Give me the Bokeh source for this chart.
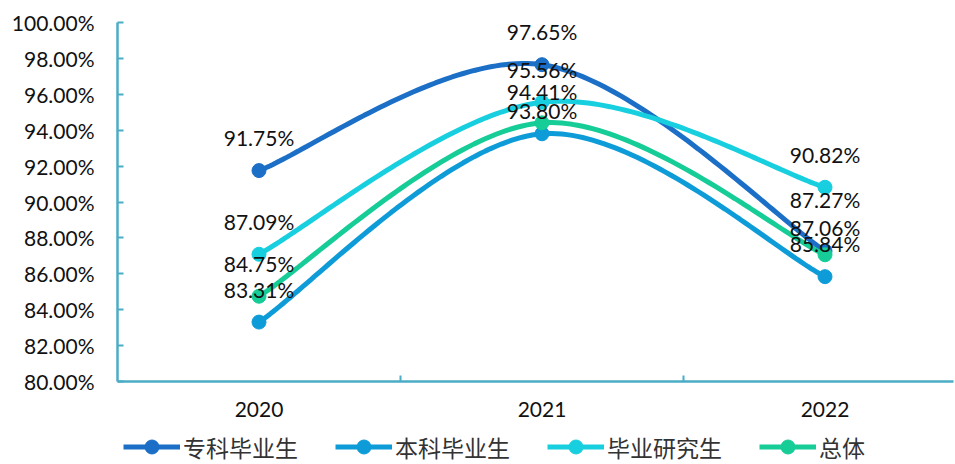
import numpy as np
from bokeh.plotting import figure
from bokeh.layouts import column
from bokeh.models import (FixedTicker, PrintfTickFormatter, Legend, LegendItem,
                          Range1d)
from bokeh.core.properties import value
from bokeh.embed import file_html
from bokeh.resources import INLINE

years = ["2020", "2021", "2022"]
series_names = ["专科毕业生", "本科毕业生", "毕业研究生", "总体"]
zhuanke = [91.75, 97.65, 87.27]
benke = [83.31, 93.80, 85.84]
yanjiusheng = [87.09, 95.56, 90.82]
zongti = [84.75, 94.41, 87.06]
y_ticks = [80, 82, 84, 86, 88, 90, 92, 94, 96, 98, 100]

# data-label vertical offsets in screen px (style only)
label_dy = [[-33, -33, -52], [-33, -23, -33], [-33, -33, -33], [-33, -31, -27]]

colors = ["#1C6FC6", "#0E9CD8", "#17CFDE", "#16CC97"]
axis_color = "#4BACC6"
FONT = "Lato"

xs = np.arange(len(years)) + 0.5


def smooth(x, y, n=60):
    P = np.column_stack([x, y]).astype(float)
    out = []
    for i in range(len(P) - 1):
        p_prev = P[i - 1] if i > 0 else P[i]
        p_next = P[i + 2] if i + 2 < len(P) else P[i + 1]
        c1 = P[i] + (P[i + 1] - p_prev) / 6.0
        c2 = P[i + 1] - (p_next - P[i]) / 6.0
        t = np.linspace(0, 1, n)[:, None]
        seg = ((1 - t) ** 3) * P[i] + 3 * ((1 - t) ** 2) * t * c1 + 3 * (1 - t) * (t ** 2) * c2 + (t ** 3) * P[i + 1]
        out.append(seg if i == 0 else seg[1:])
    arr = np.vstack(out)
    return arr[:, 0], arr[:, 1]


p = figure(width=955, height=427, output_backend="svg", toolbar_location=None,
           x_range=Range1d(0, 836 / 283), y_range=Range1d(80, 100),
           min_border_left=117, min_border_right=2, min_border_top=22,
           min_border_bottom=46)
p.outline_line_color = None
p.xgrid.grid_line_color = None
p.ygrid.grid_line_color = None
p.background_fill_color = "white"
p.border_fill_color = "white"

# axes
p.yaxis.ticker = FixedTicker(ticks=y_ticks)
p.yaxis.formatter = PrintfTickFormatter(format="%.2f%%")
p.yaxis.axis_line_color = axis_color
p.yaxis.axis_line_width = 2.5
p.yaxis.major_tick_line_color = axis_color
p.yaxis.major_tick_line_width = 2
p.yaxis.major_tick_in = 6
p.yaxis.major_tick_out = 0
p.yaxis.minor_tick_line_color = None
p.yaxis.major_label_standoff = 23
p.yaxis.major_label_text_font = FONT
p.yaxis.major_label_text_font_size = "21px"
p.yaxis.major_label_text_color = "#111111"

p.xaxis.ticker = FixedTicker(ticks=list(xs), minor_ticks=[1, 2])
p.xaxis.major_label_overrides = {float(x): y for x, y in zip(xs, years)}
p.xaxis.axis_line_color = axis_color
p.xaxis.axis_line_width = 2.5
p.xaxis.major_tick_line_color = None
p.xaxis.major_tick_in = 0
p.xaxis.major_tick_out = 0
p.xaxis.minor_tick_line_color = axis_color
p.xaxis.minor_tick_line_width = 2
p.xaxis.minor_tick_in = 6
p.xaxis.minor_tick_out = 0
p.xaxis.major_label_standoff = 20
p.xaxis.major_label_text_font = FONT
p.xaxis.major_label_text_font_size = "21px"
p.xaxis.major_label_text_color = "#111111"

all_series = [zhuanke, benke, yanjiusheng, zongti]
for name, vals, col in zip(series_names, all_series, colors):
    cx, cy = smooth(xs, vals)
    p.line(cx, cy, line_color=col, line_width=5)
    p.scatter(xs, vals, size=14, marker="circle", fill_color=col, line_color=col)

for vals, dy in zip(all_series, label_dy):
    p.text(x=xs, y=vals, text=[f"{v:.2f}%" for v in vals], text_align="center",
           text_baseline="middle", y_offset=dy, text_font=value(FONT),
           text_font_size="21px", text_color="#111111")

# legend strip (its own renderers fall outside its 0..1 view, only the legend shows)
lg = figure(width=955, height=37, output_backend="svg", toolbar_location=None,
            x_range=Range1d(0, 1), y_range=Range1d(0, 1),
            x_axis_type=None, y_axis_type=None,
            min_border_left=117, min_border_right=2, min_border_top=0,
            min_border_bottom=0)
lg.outline_line_color = None
lg.background_fill_color = "white"
lg.border_fill_color = "white"
items = []
for name, vals, col in zip(series_names, all_series, colors):
    ln = lg.line(xs, vals, line_color=col, line_width=5)
    sc = lg.scatter(xs, vals, size=14, marker="circle", fill_color=col, line_color=col)
    items.append(LegendItem(label=name, renderers=[ln, sc]))

legend = Legend(items=items, orientation="horizontal", location=(6, 0),
                label_text_font="Noto Sans CJK SC", label_text_font_size="23px",
                label_text_color="#333333", glyph_width=57, glyph_height=35,
                label_standoff=3, spacing=37, padding=0, margin=0,
                border_line_color=None, background_fill_alpha=0)
lg.add_layout(legend, "center")

layout = column(p, lg, spacing=0)
open("out.html", "w").write(file_html(layout, INLINE))
